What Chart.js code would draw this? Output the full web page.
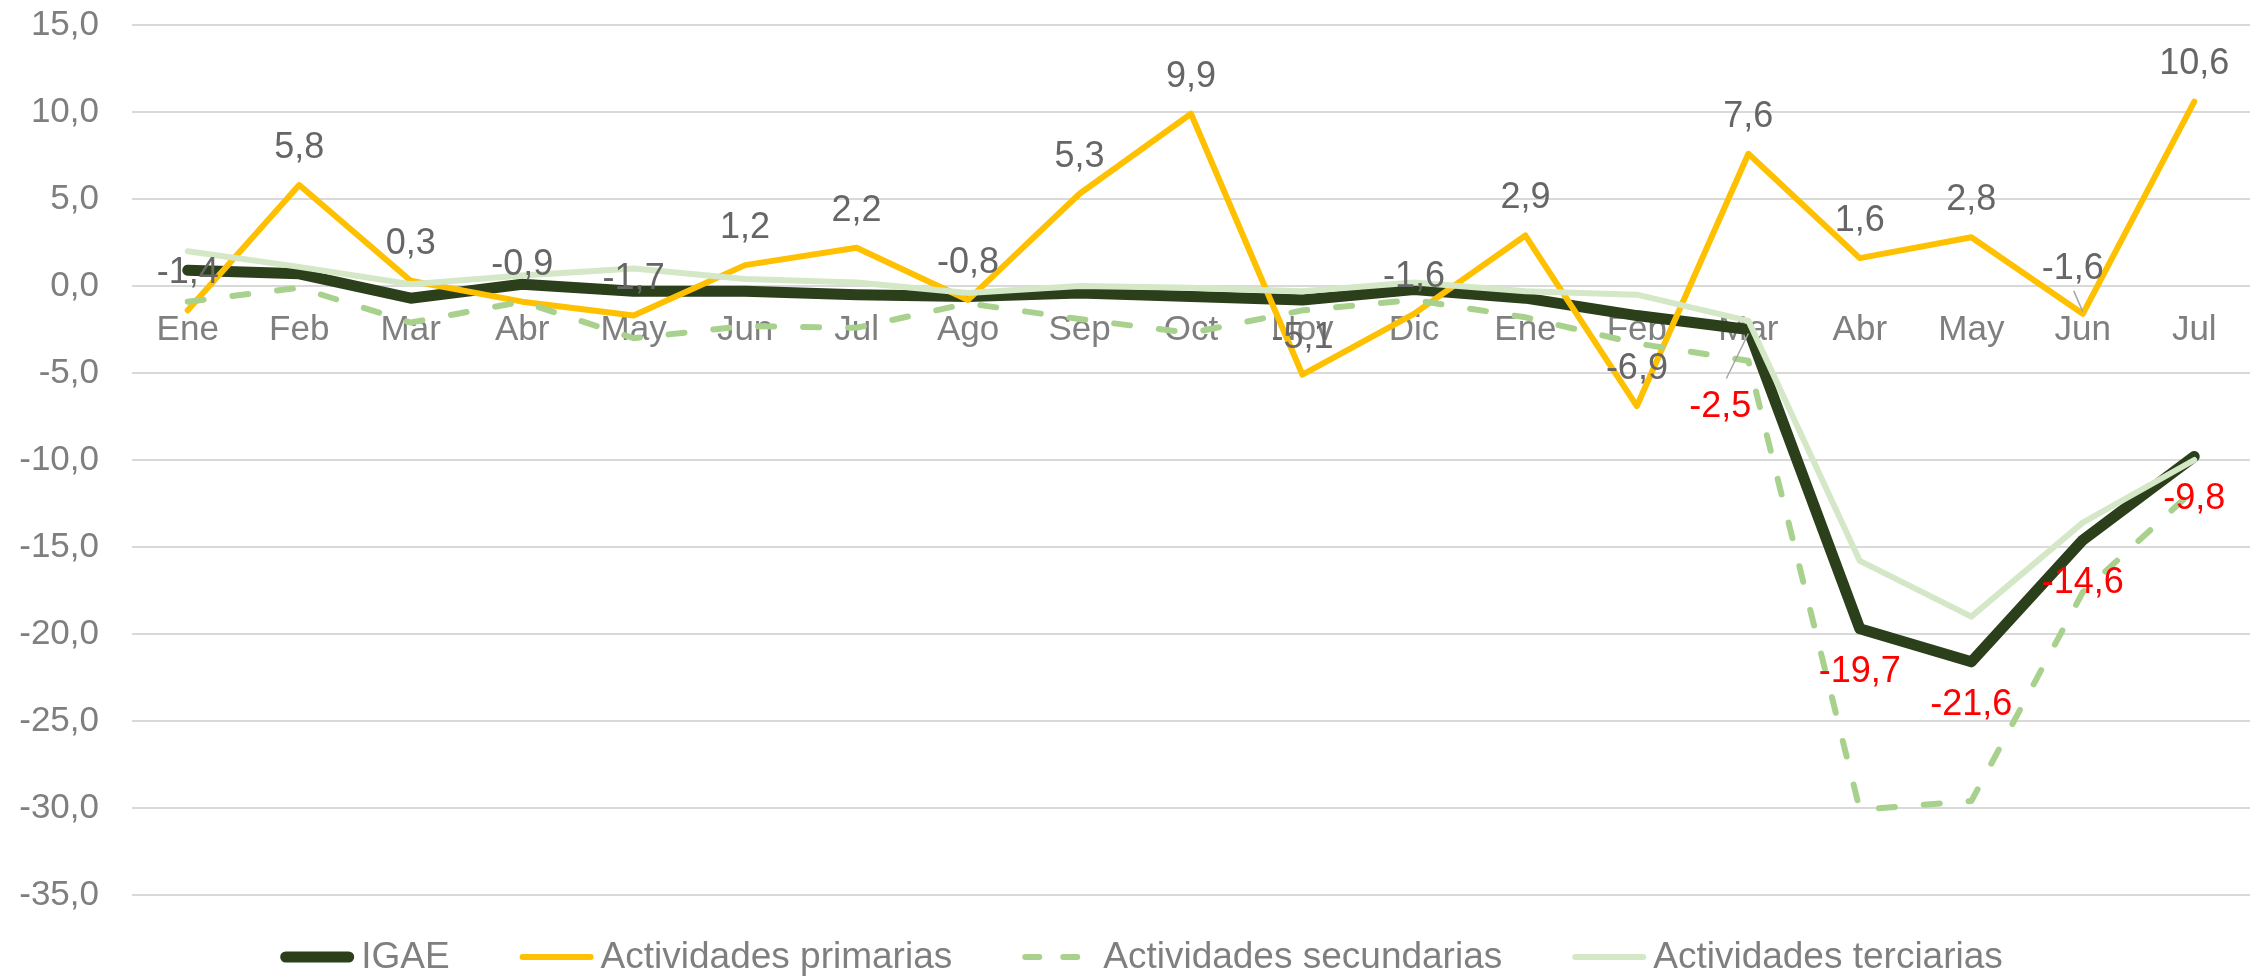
<!DOCTYPE html>
<html lang="es">
<head>
    <meta charset="UTF-8">
    <title>IGAE por actividades</title>
    <script src="https://cdn.jsdelivr.net/npm/chart.js"></script>
    <style>
        body {
            margin: 0;
            background-color: #ffffff;
        }
        #wrap {
            width: 2259px;
            height: 977px;
            position: relative;
        }
    </style>
</head>
<body>
    <div id="wrap"><canvas id="igaeChart"></canvas></div>

    <script>
        // Meses (2019 Ene - 2020 Jul)
        const meses = ['Ene', 'Feb', 'Mar', 'Abr', 'May', 'Jun', 'Jul', 'Ago', 'Sep', 'Oct', 'Nov', 'Dic',
                       'Ene', 'Feb', 'Mar', 'Abr', 'May', 'Jun', 'Jul'];

        // Variación anual (%)
        const igae = [0.9, 0.7, -0.7, 0.1, -0.3, -0.3, -0.5, -0.6, -0.4, -0.6, -0.8, -0.2,
                      -0.7, -1.7, -2.5, -19.7, -21.6, -14.6, -9.8];
        const primarias = [-1.4, 5.8, 0.3, -0.9, -1.7, 1.2, 2.2, -0.8, 5.3, 9.9, -5.1, -1.6,
                           2.9, -6.9, 7.6, 1.6, 2.8, -1.6, 10.6];
        const secundarias = [-0.9, -0.1, -2.1, -0.9, -3.0, -2.3, -2.4, -1.0, -1.9, -2.7, -1.4, -0.8,
                             -1.8, -3.3, -4.3, -30.1, -29.6, -17.6, -11.7];
        const terciarias = [2.0, 1.1, 0.1, 0.6, 1.0, 0.4, 0.2, -0.4, 0.0, -0.1, -0.3, 0.2,
                            -0.3, -0.5, -2.0, -15.8, -19.0, -13.6, -10.0];

        // Etiquetas del IGAE que se muestran (en rojo)
        const igaeEtiquetas = [14, 15, 16, 17, 18];

        const yTicks = { min: -35, max: 15, step: 5 };

        const fuente = "'Liberation Sans', Arial, sans-serif";
        const fmt = v => v.toFixed(1).replace('.', ',');

        // Etiquetas de datos y flechitas guía
        const etiquetasPlugin = {
            id: 'etiquetas',
            afterDatasetsDraw(chart) {
                const ctx = chart.ctx;
                ctx.save();
                ctx.font = '36px ' + fuente;
                ctx.textAlign = 'center';
                ctx.textBaseline = 'middle';

                // Actividades primarias: gris, arriba
                const mp = chart.getDatasetMeta(1);
                mp.data.forEach((pt, i) => {
                    let dx = 0, dy = -37;
                    if (i === 17) {
                        dx = -10; dy = -45;
                        ctx.strokeStyle = '#a6a6a6';
                        ctx.lineWidth = 1.5;
                        ctx.beginPath();
                        ctx.moveTo(pt.x - 9, pt.y - 23);
                        ctx.lineTo(pt.x, pt.y - 2);
                        ctx.stroke();
                    }
                    ctx.fillStyle = '#666666';
                    ctx.fillText(fmt(primarias[i]), pt.x + dx, pt.y + dy);
                });

                // IGAE: rojo, abajo
                const mi = chart.getDatasetMeta(0);
                igaeEtiquetas.forEach(i => {
                    const pt = mi.data[i];
                    let dx = 0, dy = 43;
                    if (i === 14) {
                        dx = -28; dy = 78;
                        ctx.strokeStyle = '#a6a6a6';
                        ctx.lineWidth = 1.5;
                        ctx.beginPath();
                        ctx.moveTo(pt.x, pt.y + 4);
                        ctx.lineTo(pt.x - 22, pt.y + 49);
                        ctx.stroke();
                    }
                    ctx.fillStyle = '#ff0000';
                    ctx.fillText(fmt(igae[i]), pt.x + dx, pt.y + dy);
                });
                ctx.restore();
            }
        };

        // Leyenda dibujada a mano (líneas largas, texto pegado)
        const leyendaPlugin = {
            id: 'leyenda',
            afterDraw(chart) {
                const ctx = chart.ctx;
                const largo = 74, hueco = 7, sep = 70;
                const yc = 957;
                ctx.save();
                ctx.font = '37px ' + fuente;
                ctx.textBaseline = 'middle';
                const items = chart.data.datasets;
                let total = 0;
                items.forEach(ds => { total += largo + hueco + ctx.measureText(ds.label).width; });
                total += sep * (items.length - 1);
                let x = chart.width / 2 + 12 - total / 2;
                items.forEach(ds => {
                    ctx.strokeStyle = ds.borderColor;
                    ctx.lineWidth = ds.borderWidth;
                    ctx.lineCap = 'round';
                    ctx.setLineDash(ds.borderDash ? [14, 24] : []);
                    ctx.beginPath();
                    ctx.moveTo(x + ds.borderWidth / 2, yc);
                    ctx.lineTo(x + largo - ds.borderWidth / 2, yc);
                    ctx.stroke();
                    ctx.setLineDash([]);
                    x += largo + hueco;
                    ctx.fillStyle = '#7f7f7f';
                    ctx.fillText(ds.label, x, yc + 1);
                    x += ctx.measureText(ds.label).width + sep;
                });
                ctx.restore();
            }
        };

        const ctx = document.getElementById('igaeChart').getContext('2d');
        const chart = new Chart(ctx, {
            type: 'line',
            data: {
                labels: meses,
                datasets: [
                    {
                        label: 'IGAE',
                        data: igae,
                        borderColor: '#2b3f1b',
                        borderWidth: 11,
                        order: 4
                    },
                    {
                        label: 'Actividades primarias',
                        data: primarias,
                        borderColor: '#ffc000',
                        borderWidth: 6,
                        order: 3
                    },
                    {
                        label: 'Actividades secundarias',
                        data: secundarias,
                        borderColor: '#a9d18e',
                        borderWidth: 6,
                        borderDash: [16, 29],
                        order: 2
                    },
                    {
                        label: 'Actividades terciarias',
                        data: terciarias,
                        borderColor: '#d4e8c7',
                        borderWidth: 6,
                        order: 1
                    }
                ]
            },
            options: {
                responsive: true,
                maintainAspectRatio: false,
                animation: false,
                layout: {
                    padding: { top: 25, right: 9, bottom: 82, left: 0 }
                },
                elements: {
                    point: { radius: 0, hoverRadius: 0 },
                    line: { tension: 0, borderCapStyle: 'round', borderJoinStyle: 'round', fill: false }
                },
                scales: {
                    x: {
                        position: { y: 0 },
                        offset: true,
                        grid: { display: false, drawTicks: false },
                        border: { display: false },
                        ticks: {
                            padding: 23,
                            color: '#7f7f7f',
                            font: { family: fuente, size: 35 },
                            maxRotation: 0,
                            autoSkip: false
                        }
                    },
                    y: {
                        min: yTicks.min,
                        max: yTicks.max,
                        grid: { color: '#d9d9d9', lineWidth: 2, drawTicks: false },
                        border: { display: false },
                        ticks: {
                            stepSize: yTicks.step,
                            padding: 33,
                            color: '#7f7f7f',
                            font: { family: fuente, size: 35 },
                            callback: v => fmt(v)
                        },
                        afterFit(scale) {
                            scale.width = 132;
                            // que el padding de las marcas no empuje el área del gráfico
                            scale.paddingTop = 0;
                            scale.paddingBottom = 0;
                        }
                    }
                },
                plugins: {
                    legend: { display: false },
                    tooltip: { enabled: false }
                }
            },
            plugins: [etiquetasPlugin, leyendaPlugin]
        });
    </script>
</body>
</html>
